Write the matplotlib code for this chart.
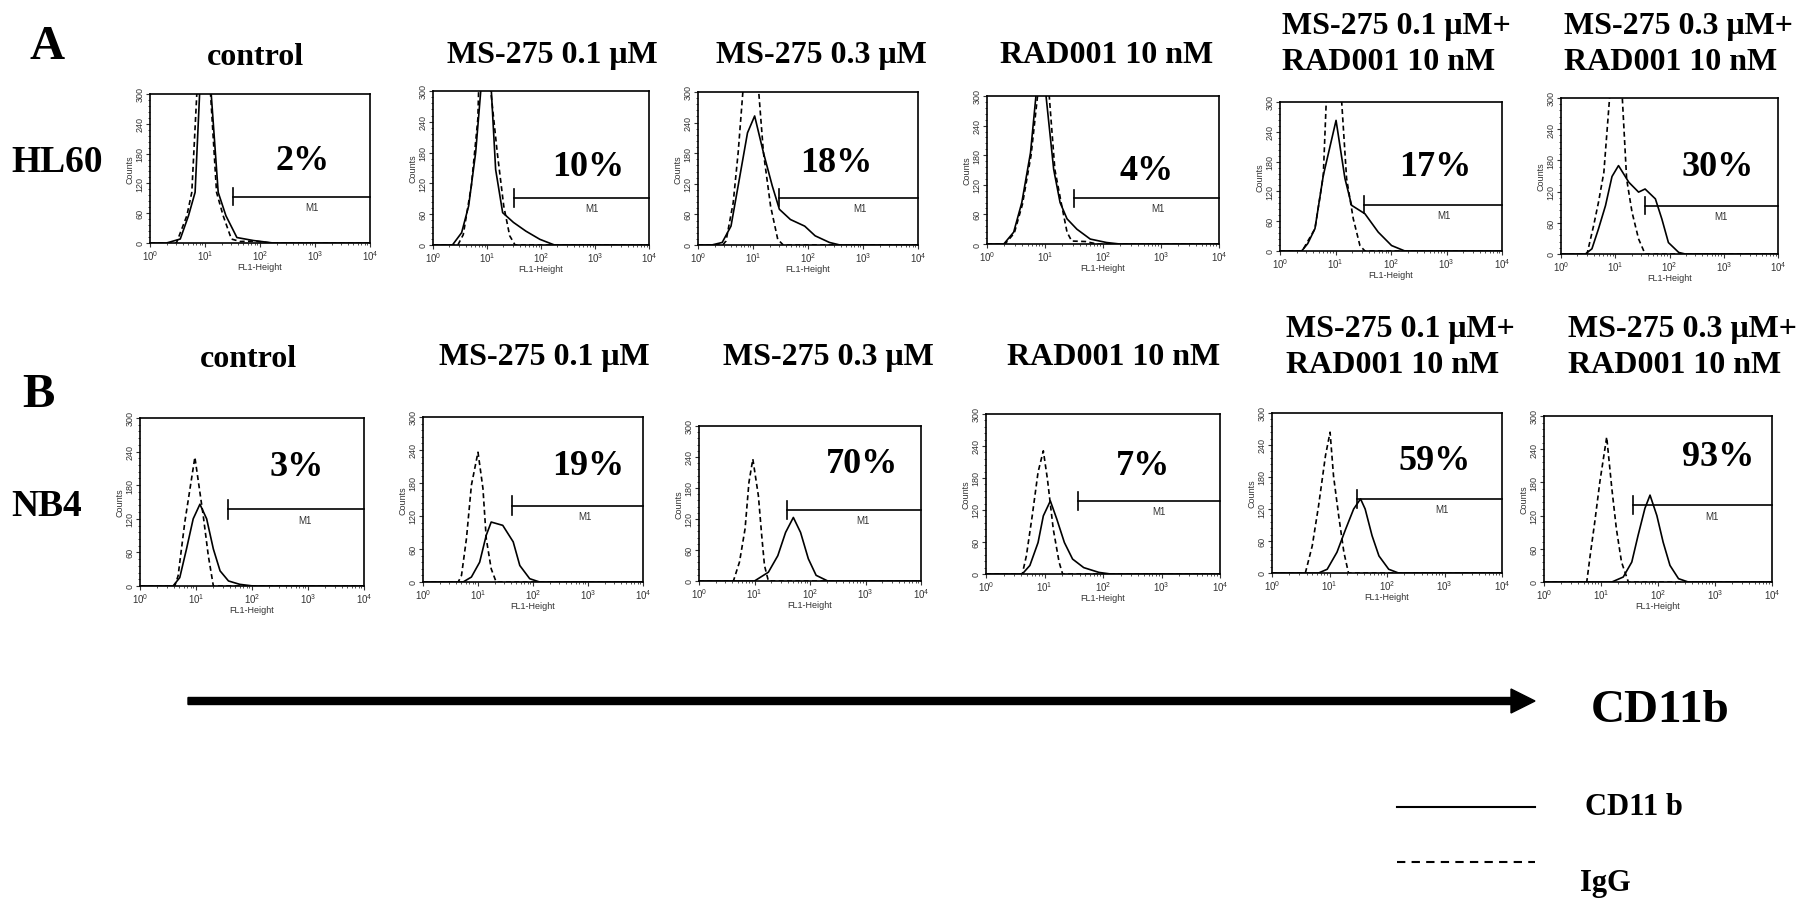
import numpy as np
import matplotlib
matplotlib.use('Agg')
import matplotlib.pyplot as plt
from matplotlib.ticker import MultipleLocator, FixedLocator

plt.rcParams['font.family'] = ['Liberation Sans', 'DejaVu Sans']

# conditions (same order in both rows)
conditions = ['control', 'MS-275 0.1 \u03bcM', 'MS-275 0.3 \u03bcM', 'RAD001 10 nM',
              'MS-275 0.1 \u03bcM+\nRAD001 10 nM', 'MS-275 0.3 \u03bcM+\nRAD001 10 nM']
cell_lines = ['HL60', 'NB4']
hl60_pct = ['2%', '10%', '18%', '4%', '17%', '30%']
nb4_pct = ['3%', '19%', '70%', '7%', '59%', '93%']

# M1 gate start (FL1 value) and height (counts)
hl60_gate_x = [32, 31, 30, 32, 32, 35]
hl60_gate_y = [93, 92, 93, 93, 93, 93]
nb4_gate_x = [38, 41, 38, 37, 30, 37]
nb4_gate_y = [137, 139, 137, 137, 139, 139]

# histogram outlines: log10(FL1) positions and counts
hl60_cd11b_logx = [
    [0, 0.30, 0.55, 0.70, 0.82, 0.91, 1.10, 1.24, 1.38, 1.58, 1.88, 2.24, 4.0],
    [0, 0.36, 0.53, 0.66, 0.79, 0.90, 1.07, 1.16, 1.29, 1.49, 1.72, 1.98, 2.25, 4.0],
    [0, 0.25, 0.44, 0.60, 0.73, 0.90, 1.03, 1.19, 1.35, 1.48, 1.68, 1.94, 2.13, 2.39, 2.58, 4.0],
    [0, 0.29, 0.46, 0.60, 0.75, 0.86, 1.00, 1.15, 1.26, 1.38, 1.55, 1.78, 2.06, 2.29, 4.0],
    [0, 0.39, 0.50, 0.63, 0.78, 1.01, 1.17, 1.29, 1.53, 1.77, 2.01, 2.25, 4.0],
    [0, 0.45, 0.57, 0.69, 0.82, 0.94, 1.06, 1.25, 1.43, 1.55, 1.74, 1.86, 1.98, 2.17, 2.29, 4.0],
]
hl60_cd11b_counts = [
    [0, 0, 8, 55, 102, 320, 320, 102, 55, 11, 5, 0, 0],
    [0, 0, 24, 76, 180, 320, 320, 147, 63, 44, 27, 11, 0, 0],
    [0, 0, 5, 37, 116, 220, 253, 181, 116, 70, 50, 37, 18, 5, 0, 0],
    [0, 0, 24, 84, 185, 320, 320, 151, 84, 51, 30, 10, 3, 0, 0],
    [0, 0, 15, 45, 152, 263, 146, 92, 75, 38, 11, 0, 0],
    [0, 0, 10, 48, 93, 149, 170, 138, 119, 125, 106, 67, 22, 3, 0, 0],
]
hl60_igg_logx = [
    [0, 0.48, 0.67, 0.76, 0.86, 1.09, 1.21, 1.33, 1.48, 1.64, 1.90, 2.20, 4.0],
    [0, 0.46, 0.56, 0.71, 0.83, 0.85, 1.05, 1.19, 1.31, 1.42, 1.52, 4.0],
    [0, 0.45, 0.51, 0.64, 0.73, 0.83, 1.09, 1.19, 1.32, 1.45, 1.55, 4.0],
    [0, 0.31, 0.47, 0.61, 0.76, 0.89, 1.06, 1.17, 1.29, 1.38, 1.46, 1.70, 1.90, 4.0],
    [0, 0.40, 0.63, 0.78, 0.84, 1.10, 1.20, 1.32, 1.44, 1.53, 4.0],
    [0, 0.48, 0.60, 0.69, 0.79, 0.91, 1.12, 1.21, 1.31, 1.43, 1.55, 4.0],
]
hl60_igg_counts = [
    [0, 0, 55, 102, 320, 320, 102, 55, 8, 3, 4, 0, 0],
    [0, 0, 20, 115, 245, 320, 320, 180, 76, 18, 0, 0],
    [0, 0, 8, 83, 181, 320, 320, 181, 76, 11, 0, 0],
    [0, 0, 22, 80, 180, 320, 320, 151, 77, 24, 6, 5, 0, 0],
    [0, 0, 45, 152, 320, 320, 146, 65, 11, 0, 0],
    [0, 0, 54, 99, 157, 320, 320, 144, 80, 29, 0, 0],
]
nb4_cd11b_logx = [
    [0, 0.59, 0.71, 0.83, 0.95, 1.07, 1.19, 1.31, 1.43, 1.58, 1.78, 2.02, 4.0],
    [0, 0.73, 0.88, 1.03, 1.15, 1.24, 1.45, 1.64, 1.76, 1.94, 2.12, 4.0],
    [0, 1.00, 1.25, 1.42, 1.56, 1.70, 1.83, 1.97, 2.11, 2.32, 4.0],
    [0, 0.62, 0.75, 0.89, 0.98, 1.10, 1.21, 1.34, 1.48, 1.67, 1.93, 2.13, 4.0],
    [0, 0.81, 0.96, 1.13, 1.28, 1.42, 1.54, 1.62, 1.74, 1.86, 2.03, 2.20, 4.0],
    [0, 1.19, 1.39, 1.54, 1.65, 1.77, 1.86, 1.98, 2.09, 2.21, 2.36, 2.53, 4.0],
]
nb4_cd11b_counts = [
    [0, 0, 15, 66, 120, 146, 120, 66, 27, 9, 3, 0, 0],
    [0, 0, 9, 36, 85, 109, 103, 73, 30, 6, 0, 0],
    [0, 0, 17, 49, 94, 123, 94, 43, 11, 0, 0],
    [0, 0, 16, 59, 109, 137, 103, 59, 28, 12, 3, 0, 0],
    [0, 0, 7, 39, 82, 120, 139, 120, 70, 32, 7, 0, 0],
    [0, 0, 9, 36, 84, 133, 157, 120, 72, 30, 6, 0, 0],
]
nb4_igg_logx = [
    [0, 0.62, 0.68, 0.80, 0.98, 1.13, 1.22, 1.31, 4.0],
    [0, 0.64, 0.70, 0.79, 0.88, 1.00, 1.09, 1.15, 1.24, 1.33, 4.0],
    [0, 0.62, 0.73, 0.83, 0.90, 0.97, 1.07, 1.13, 1.18, 1.25, 4.0],
    [0, 0.62, 0.69, 0.79, 0.89, 0.98, 1.05, 1.15, 1.25, 1.31, 4.0],
    [0, 0.58, 0.70, 0.81, 0.93, 1.01, 1.07, 1.16, 1.25, 1.33, 4.0],
    [0, 0.75, 0.81, 0.89, 0.98, 1.10, 1.19, 1.27, 1.36, 1.48, 4.0],
]
nb4_igg_counts = [
    [0, 0, 18, 114, 230, 125, 54, 0, 0],
    [0, 0, 12, 79, 176, 236, 170, 79, 24, 0, 0],
    [0, 0, 37, 101, 191, 236, 165, 88, 30, 0, 0],
    [0, 0, 34, 109, 191, 231, 178, 84, 22, 0, 0],
    [0, 0, 51, 126, 220, 264, 182, 107, 39, 0, 0],
    [0, 0, 48, 108, 181, 262, 169, 96, 36, 0, 0],
]

# layout, in pixels of the 1816x904 figure: (left, right, top, bottom)
W, H = 1816, 904
hl60_boxes = [(150, 370, 95, 244), (433, 649, 92, 246), (698, 918, 93, 246),
              (987, 1219, 97, 245), (1280, 1502, 103, 252), (1561, 1778, 99, 255)]
nb4_boxes = [(140, 364, 419, 587), (423, 643, 418, 583), (699, 921, 427, 582),
             (986, 1220, 415, 575), (1272, 1502, 414, 574), (1544, 1772, 417, 583)]
hl60_pct_pos = [(303, 162), (588, 168), (836, 163), (1147, 172), (1435, 167), (1718, 168)]
nb4_pct_pos = [(297, 468), (588, 467), (862, 465), (1143, 467), (1435, 462), (1718, 458)]

serif = ['Liberation Serif', 'DejaVu Serif']
tick_col = '#333333'

fig = plt.figure(figsize=(W / 100, H / 100), dpi=100)


def panel(box, cd_x, cd_y, ig_x, ig_y, gx, gy):
    l, r, t, b = box
    ax = fig.add_axes([l / W, 1 - b / H, (r - l) / W, (b - t) / H])
    ax.plot(10 ** np.array(ig_x), ig_y, color='black', lw=1.2, dashes=(3, 2))
    ax.plot(10 ** np.array(cd_x), cd_y, color='black', lw=1.2)
    ax.set_xscale('log')
    ax.set_xlim(1, 1e4)
    ax.set_ylim(0, 300)
    # M1 gate
    ax.plot([gx, 1e4], [gy, gy], color='black', lw=1.2, clip_on=False)
    ax.plot([gx, gx], [gy - 17, gy + 17], color='black', lw=1.2)
    ax.text(10 ** 2.95, gy - 10, 'M1', fontsize=7, color=tick_col, ha='center', va='top')
    ax.yaxis.set_major_locator(FixedLocator([0, 60, 120, 180, 240, 300]))
    ax.yaxis.set_minor_locator(MultipleLocator(12))
    ax.tick_params(axis='y', labelrotation=90, labelsize=6.5, colors=tick_col, length=3, pad=1)
    ax.tick_params(axis='x', labelsize=7, colors=tick_col, length=3, pad=1)
    ax.tick_params(which='minor', length=1.5, colors=tick_col)
    for lab in ax.get_yticklabels():
        lab.set_va('center')
    ax.set_ylabel('Counts', fontsize=6.5, color=tick_col, labelpad=1)
    ax.set_xlabel('FL1-Height', fontsize=6.5, color=tick_col, labelpad=0)
    for s in ax.spines.values():
        s.set_linewidth(1.2)
    return ax


for i in range(6):
    panel(hl60_boxes[i], hl60_cd11b_logx[i], hl60_cd11b_counts[i],
          hl60_igg_logx[i], hl60_igg_counts[i], hl60_gate_x[i], hl60_gate_y[i])
    panel(nb4_boxes[i], nb4_cd11b_logx[i], nb4_cd11b_counts[i],
          nb4_igg_logx[i], nb4_igg_counts[i], nb4_gate_x[i], nb4_gate_y[i])

# overlay in pixel coordinates for labels, arrow and legend
ov = fig.add_axes([0, 0, 1, 1])
ov.set_xlim(0, W)
ov.set_ylim(H, 0)
ov.axis('off')
ov.patch.set_visible(False)

bold = dict(family=serif, fontweight='bold', color='black')

ov.text(47, 47, 'A', fontsize=35, ha='center', va='center', **bold)
ov.text(38, 395, 'B', fontsize=35, ha='center', va='center', **bold)
ov.text(57, 162, cell_lines[0], fontsize=27, ha='center', va='center', **bold)
ov.text(47, 507, cell_lines[1], fontsize=27, ha='center', va='center', **bold)

# column titles
title_a = [(255, 65), (552, 63), (821, 63), (1107, 63)]
title_b = [(248, 367), (544, 365), (828, 365), (1114, 365)]
for i in range(4):
    ov.text(*title_a[i], conditions[i], fontsize=23, ha='center', va='baseline', **bold)
    ov.text(*title_b[i], conditions[i], fontsize=23, ha='center', va='baseline', **bold)
two_line_a = [(1282, 70), (1564, 70)]
two_line_b = [(1286, 373), (1568, 373)]
for j in range(2):
    ov.text(*two_line_a[j], conditions[4 + j], fontsize=23, ha='left', va='baseline',
            linespacing=1.3, **bold)
    ov.text(*two_line_b[j], conditions[4 + j], fontsize=23, ha='left', va='baseline',
            linespacing=1.3, **bold)

for i in range(6):
    ov.text(*hl60_pct_pos[i], hl60_pct[i], fontsize=26, ha='center', va='center', **bold)
    ov.text(*nb4_pct_pos[i], nb4_pct[i], fontsize=26, ha='center', va='center', **bold)

# CD11b arrow
ov.arrow(188, 702, 1347, 0, width=7, head_width=24, head_length=24,
         length_includes_head=True, color='black')
ov.text(1660, 711, 'CD11b', fontsize=34, ha='center', va='center', **bold)

# legend
ov.plot([1397, 1535], [808, 808], color='black', lw=1.5)
ov.plot([1397, 1535], [863, 863], color='black', lw=1.5, dashes=(4, 3))
ov.text(1585, 808, 'CD11 b', fontsize=22, ha='left', va='center', **bold)
ov.text(1580, 884, 'IgG', fontsize=22, ha='left', va='center', **bold)

fig.savefig('out.png', dpi=100)
